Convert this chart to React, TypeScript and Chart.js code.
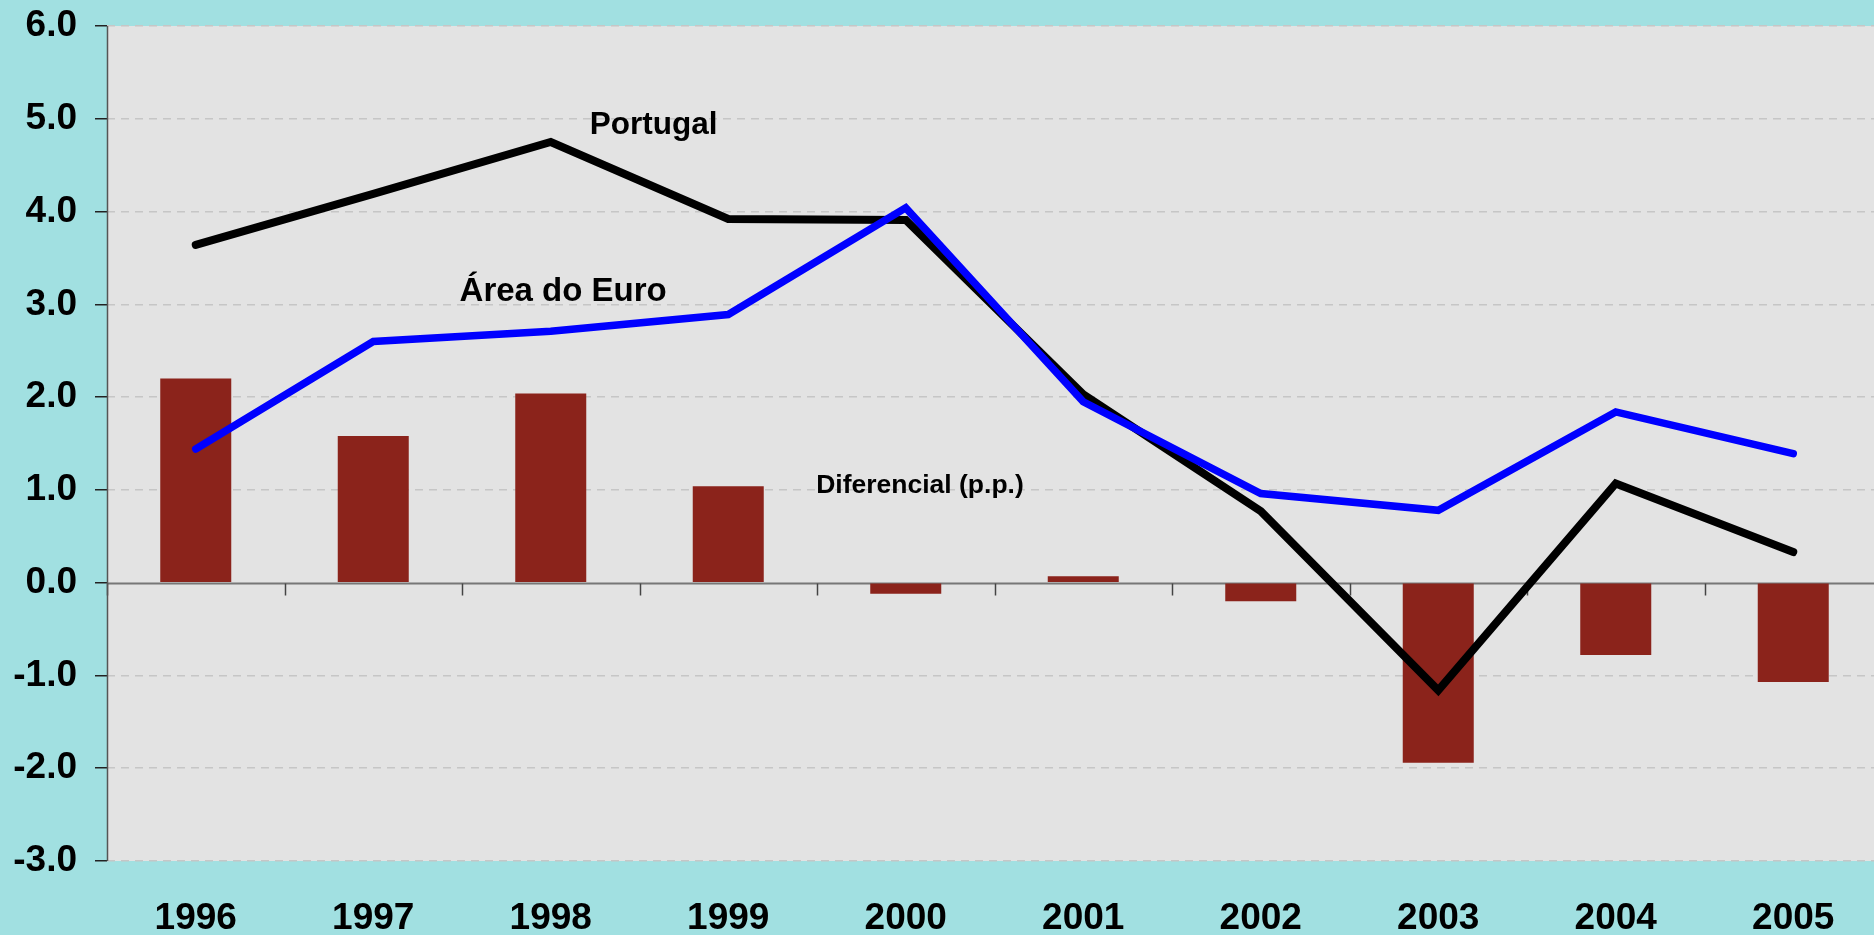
import React, { useEffect, useRef } from 'react';
import { Chart, registerables } from 'chart.js';

Chart.register(...registerables);

const years = ['1996', '1997', '1998', '1999', '2000', '2001', '2002', '2003', '2004', '2005'];
const portugal = [3.64, 4.19, 4.75, 3.92, 3.91, 2.03, 0.77, -1.16, 1.07, 0.33];
const euroArea = [1.44, 2.6, 2.71, 2.89, 4.04, 1.95, 0.96, 0.78, 1.84, 1.39];
const differential = [2.2, 1.58, 2.04, 1.04, -0.12, 0.07, -0.2, -1.94, -0.78, -1.07];
const yMin = -3;
const yMax = 6;
const yStep = 1;

const labelTexts = ['Portugal', 'Área do Euro', 'Diferencial (p.p.)'];
const labelAnchors = [
  { x: 2.58, y: 4.93, size: 31.5 },
  { x: 2.07, y: 3.13, size: 33 },
  { x: 4.08, y: 1.04, size: 26.5 },
];

const FONT = '"Liberation Sans", Arial, sans-serif';

const decorPlugin = {
  id: 'decor',
  beforeDraw(chart: any) {
    const { ctx, chartArea } = chart;
    ctx.save();
    ctx.fillStyle = '#e3e3e3';
    ctx.fillRect(chartArea.left, chartArea.top, chartArea.right - chartArea.left, chartArea.bottom - chartArea.top);
    ctx.restore();
  },
  beforeDatasetsDraw(chart: any) {
    const { ctx, chartArea, scales } = chart;
    const x = scales.x;
    const y = scales.y;
    const y0 = Math.round(y.getPixelForValue(0)) + 0.5;
    ctx.save();
    ctx.strokeStyle = '#777';
    ctx.lineWidth = 2;
    ctx.beginPath();
    ctx.moveTo(chartArea.left, y0);
    ctx.lineTo(chartArea.right, y0);
    ctx.stroke();
    ctx.lineWidth = 1.5;
    ctx.strokeStyle = '#444';
    for (let i = 0; i <= years.length; i++) {
      const px = Math.round(x.getPixelForValue(i - 0.5)) + 0.5;
      ctx.beginPath();
      ctx.moveTo(px, y0);
      ctx.lineTo(px, y0 + 12);
      ctx.stroke();
    }
    ctx.strokeStyle = '#555';
    ctx.lineWidth = 1.5;
    ctx.beginPath();
    ctx.moveTo(chartArea.left + 0.5, chartArea.top);
    ctx.lineTo(chartArea.left + 0.5, chartArea.bottom);
    ctx.stroke();
    ctx.restore();
  },
  afterDatasetsDraw(chart: any) {
    const { ctx, scales } = chart;
    ctx.save();
    ctx.fillStyle = '#000';
    ctx.textAlign = 'center';
    ctx.textBaseline = 'middle';
    labelTexts.forEach((t, i) => {
      const a = labelAnchors[i];
      ctx.font = `bold ${a.size}px ${FONT}`;
      ctx.fillText(t, scales.x.getPixelForValue(a.x), scales.y.getPixelForValue(a.y));
    });
    ctx.restore();
  },
};

export default function App() {
  const ref = useRef<HTMLCanvasElement | null>(null);
  useEffect(() => {
    document.body.style.margin = '0';
    const canvas = ref.current;
    if (!canvas) return;
    const chart = new Chart(canvas, {
      type: 'bar',
      data: {
        labels: years,
        datasets: [
          {
            type: 'line',
            label: 'Área do Euro',
            data: euroArea,
            borderColor: '#0000ff',
            backgroundColor: '#0000ff',
            borderWidth: 7.5,
            pointRadius: 0,
            borderCapStyle: 'round',
            borderJoinStyle: 'miter',
            tension: 0,
            order: 0,
          } as any,
          {
            type: 'line',
            label: 'Portugal',
            data: portugal,
            borderColor: '#000000',
            backgroundColor: '#000000',
            borderWidth: 8,
            pointRadius: 0,
            borderCapStyle: 'round',
            borderJoinStyle: 'miter',
            tension: 0,
            order: 1,
          } as any,
          {
            type: 'bar',
            label: 'Diferencial (p.p.)',
            data: differential,
            backgroundColor: '#8b231b',
            borderWidth: 0,
            barPercentage: 0.4,
            categoryPercentage: 1,
            order: 2,
          },
        ],
      },
      options: {
        animation: false,
        responsive: false,
        maintainAspectRatio: false,
        devicePixelRatio: 1,
        layout: { padding: { top: 26, left: 0, right: 0, bottom: 0 } },
        plugins: {
          legend: { display: false },
          tooltip: { enabled: false },
        },
        scales: {
          x: {
            offset: true,
            grid: { display: false, drawTicks: false },
            border: { display: false },
            ticks: {
              color: '#000',
              font: { family: FONT, size: 37, weight: 'bold' },
              padding: 36,
              maxRotation: 0,
              autoSkip: false,
            },
            afterFit(scale: any) {
              scale.height = 74;
              scale.paddingLeft = 0;
              scale.paddingRight = 0;
            },
          },
          y: {
            min: yMin,
            max: yMax,
            ticks: {
              stepSize: yStep,
              color: '#000',
              font: { family: FONT, size: 37, weight: 'bold' },
              padding: 18,
              callback: (v: any) => Number(v).toFixed(1),
            },
            grid: {
              color: (c: any) => (c.tick && c.tick.value === 0 ? 'rgba(0,0,0,0)' : '#c6c6c6'),
              lineWidth: 1.5,
              tickLength: 12,
              tickColor: '#222',
              tickWidth: 1.5,
            },
            border: { display: false, dash: [8, 6] },
            afterFit(scale: any) {
              scale.width = 107;
              scale.paddingTop = 0;
              scale.paddingBottom = 0;
            },
          },
        },
      },
      plugins: [decorPlugin],
    });
    return () => chart.destroy();
  }, []);
  return (
    <div
      style={{
        position: 'absolute',
        left: 0,
        top: 0,
        width: 1874,
        height: 935,
        overflow: 'hidden',
        background: '#a1e0e1',
      }}
    >
      <canvas ref={ref} width={1882} height={935} style={{ display: 'block' }} />
    </div>
  );
}
